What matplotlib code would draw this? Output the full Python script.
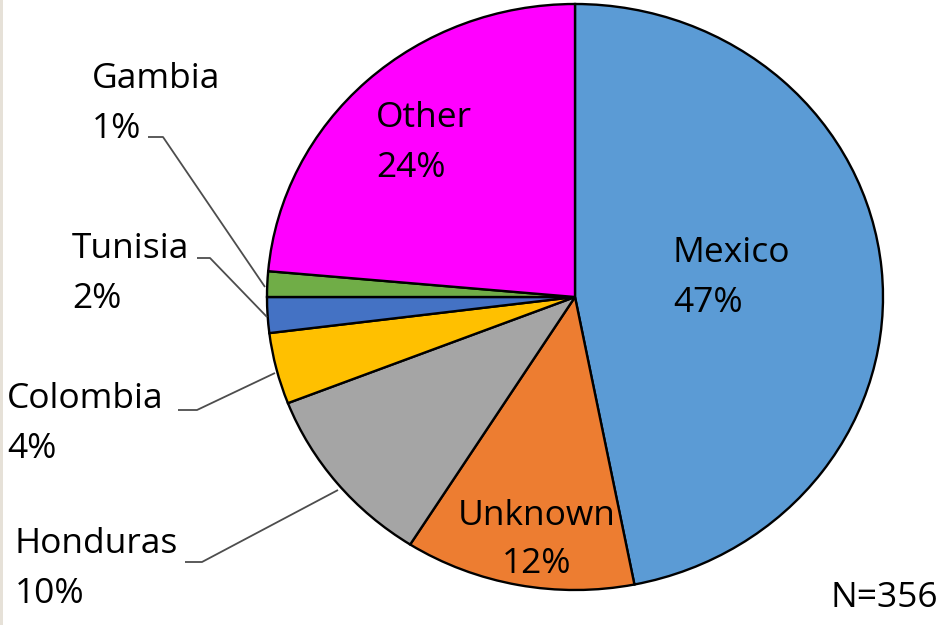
"""
Pie chart of country of origin, N=356.
"""
import matplotlib
matplotlib.use("Agg")
import matplotlib.pyplot as plt
from matplotlib.patches import Rectangle

# data (clockwise from 12 o'clock)
countries = ["Mexico", "Unknown", "Honduras", "Colombia", "Tunisia", "Gambia", "Other"]
counts = [167, 43, 36, 14, 7, 5, 84]
pct_labels = ["47%", "12%", "10%", "4%", "2%", "1%", "24%"]
colors = ["#5B9BD5", "#ED7D31", "#A5A5A5", "#FFC000", "#4472C4", "#70AD47", "#FF00FF"]
total_label = "N=356"

W, H = 946, 625
SY = 308 / 293  # the original pie is a slightly wide ellipse

plt.rcParams['font.family'] = ['Open Sans', 'DejaVu Sans']

fig = plt.figure(figsize=(W / 100, H / 100), dpi=100)
fig.patch.set_facecolor("white")
ax = fig.add_axes([0, 0, 1, 1])


def py(y):
    """pixel row -> data y"""
    return (H - y) * SY


ax.pie(counts, colors=colors, startangle=90, counterclock=False,
       center=(575, py(297)), radius=308,
       wedgeprops=dict(edgecolor="black", linewidth=1.7))
ax.set_aspect("auto")
ax.set_xlim(0, W)
ax.set_ylim(0, H * SY)
ax.axis("off")

fs = 25.5


def label(x, y, txt, ha="left"):
    fig.text(x / W, 1 - y / H, txt, ha=ha, va="baseline",
             fontsize=fs, color="black")


# labels inside slices
label(673, 262, countries[0])
label(673, 312, pct_labels[0])
label(537, 525, countries[1], ha="center")
label(537, 573, pct_labels[1], ha="center")
label(376, 127, countries[6])
label(376, 177, pct_labels[6])

# labels outside, with leader lines
outside = [
    # idx, text x, name baseline, pct baseline, leader points
    (5, 92, 88, 138, [(148, 137), (163, 137), (265, 287)]),
    (4, 72, 258, 308, [(197, 258), (210, 258), (267, 317)]),
    (3, 7, 408, 458, [(178, 410), (197, 410), (275, 373)]),
    (2, 15, 553, 603, [(185, 562), (202, 562), (338, 490)]),
]
for idx, tx, yn, yp, pts in outside:
    label(tx, yn, countries[idx])
    label(tx, yp, pct_labels[idx])
    ax.plot([p[0] for p in pts], [py(p[1]) for p in pts],
            color="#4D4D4D", linewidth=1.3, solid_capstyle="butt")

label(938, 607, total_label, ha="right")

# thin beige strip at the left edge
fig.patches.append(Rectangle((0, 0), 3 / W, 1, transform=fig.transFigure,
                             facecolor="#E6E1D8", edgecolor="none"))

fig.savefig("out.png", dpi=100)
